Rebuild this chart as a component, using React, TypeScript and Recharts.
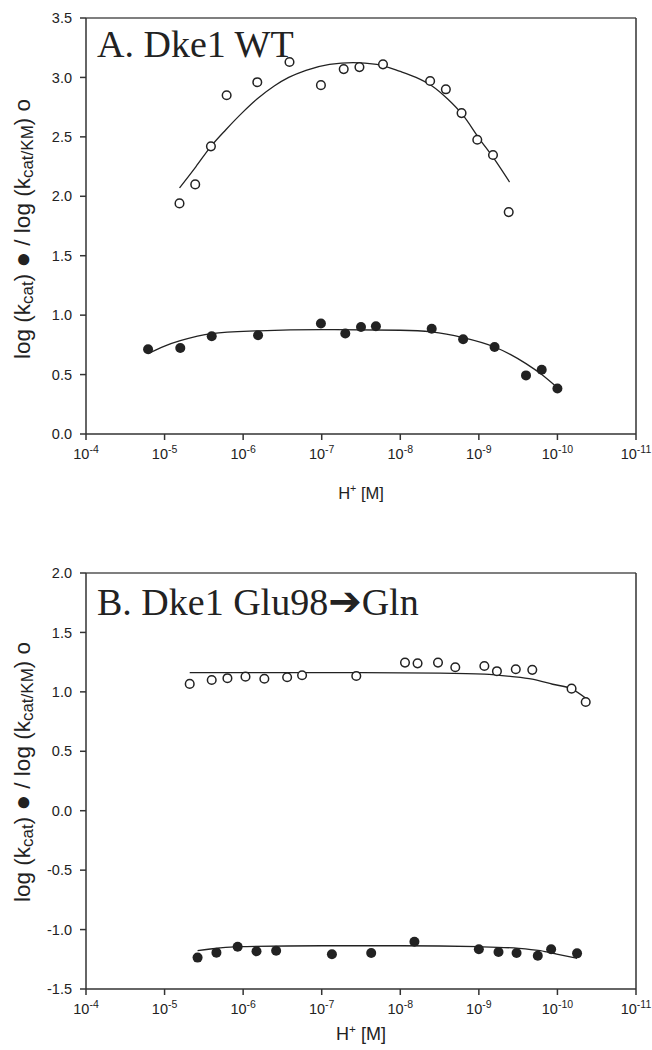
import { ComposedChart, Scatter, Line, XAxis, YAxis, ReferenceLine } from 'recharts';

// x positions are pH (H+ = 10^-pH), shown as 10^-n on the axis
const PH_TICKS = [4, 5, 6, 7, 8, 9, 10, 11];

// A. Dke1 WT
const wtKmPh = [5.19, 5.39, 5.59, 5.79, 6.18, 6.59, 6.99, 7.28, 7.48, 7.78, 8.38, 8.58, 8.78, 8.98, 9.18, 9.38];
const wtKmLog = [1.94, 2.1, 2.42, 2.85, 2.96, 3.13, 2.935, 3.07, 3.087, 3.11, 2.97, 2.9, 2.7, 2.476, 2.347, 1.867];
const wtKcatPh = [4.79, 5.2, 5.6, 6.19, 6.99, 7.3, 7.5, 7.69, 8.4, 8.8, 9.2, 9.6, 9.8, 10.0];
const wtKcatLog = [0.713, 0.724, 0.823, 0.831, 0.93, 0.845, 0.9, 0.907, 0.885, 0.797, 0.732, 0.493, 0.541, 0.383];
const wtKmFitPh = [5.19, 5.4, 5.59, 5.78, 6.0, 6.18, 6.4, 6.58, 6.8, 7.1, 7.4, 7.7, 8.0, 8.2, 8.4, 8.6, 8.8, 9.0, 9.2, 9.39];
const wtKmFit = [2.07, 2.25, 2.42, 2.56, 2.71, 2.82, 2.93, 3.0, 3.06, 3.11, 3.125, 3.11, 3.05, 3.0, 2.93, 2.82, 2.68, 2.49, 2.31, 2.12];
const wtKcatFitPh = [4.79, 5.0, 5.2, 5.6, 6.2, 7.0, 8.0, 8.4, 8.8, 9.2, 9.4, 9.6, 9.8, 10.0];
const wtKcatFit = [0.676, 0.74, 0.785, 0.845, 0.868, 0.879, 0.873, 0.859, 0.811, 0.732, 0.67, 0.592, 0.5, 0.389];

// B. Dke1 Glu98->Gln
const mutKmPh = [5.32, 5.6, 5.8, 6.03, 6.27, 6.56, 6.75, 7.44, 8.06, 8.22, 8.48, 8.7, 9.07, 9.23, 9.47, 9.68, 10.18, 10.36];
const mutKmLog = [1.067, 1.1, 1.115, 1.128, 1.11, 1.123, 1.14, 1.134, 1.246, 1.24, 1.246, 1.207, 1.218, 1.174, 1.19, 1.185, 1.027, 0.915];
const mutKcatPh = [5.42, 5.66, 5.93, 6.17, 6.42, 7.13, 7.63, 8.18, 9.0, 9.25, 9.48, 9.75, 9.92, 10.25];
const mutKcatLog = [-1.236, -1.194, -1.144, -1.183, -1.178, -1.208, -1.197, -1.102, -1.166, -1.189, -1.197, -1.22, -1.166, -1.2];
const mutKmFitPh = [5.32, 6.5, 7.5, 8.5, 9.07, 9.4, 9.68, 9.94, 10.18, 10.38];
const mutKmFit = [1.162, 1.162, 1.162, 1.158, 1.149, 1.13, 1.107, 1.064, 1.025, 0.937];
const mutKcatFitPh = [5.42, 5.7, 5.93, 7.0, 8.0, 9.0, 9.51, 9.78, 9.99, 10.25];
const mutKcatFit = [-1.178, -1.155, -1.144, -1.136, -1.136, -1.144, -1.158, -1.178, -1.206, -1.242];

const A_TICKS = [0, 0.5, 1, 1.5, 2, 2.5, 3, 3.5];
const B_TICKS = [-1.5, -1, -0.5, 0, 0.5, 1, 1.5, 2];

const SANS = 'Liberation Sans, Arial, sans-serif';
const SERIF = 'Liberation Serif, Times New Roman, serif';
const INK = '#222';

const zip = (xs: number[], ys: number[]) => xs.map((x, i) => ({ x, y: ys[i] }));

const OpenDot = (p: any) => (
  <circle cx={p.cx} cy={p.cy} r={4.3} fill="#fff" stroke={INK} strokeWidth={1.5} />
);
const FilledDot = (p: any) => <circle cx={p.cx} cy={p.cy} r={5} fill={INK} />;

const PowTick = ({ x, y, payload }: any) => (
  <text x={x} y={y + 17} textAnchor="middle" fontSize={14.5} fill={INK} fontFamily={SANS}>
    <tspan>10</tspan>
    <tspan dy={-6} fontSize={10.5}>{`-${payload.value}`}</tspan>
  </text>
);

interface PanelProps {
  height: number;
  marginTop: number;
  xAxisHeight: number;
  xLabelDy: number;
  xLabelSize: number;
  yDomain: [number, number];
  yTicks: number[];
  title: React.ReactNode;
  titleDy: number;
  yLabelShift: number;
  open: { x: number; y: number }[];
  filled: { x: number; y: number }[];
  openFit: { x: number; y: number }[];
  filledFit: { x: number; y: number }[];
}

function Panel(props: PanelProps) {
  const { height, marginTop, xAxisHeight, xLabelDy, xLabelSize, yDomain, yTicks, title, titleDy, yLabelShift } = props;

  const renderYLabel = ({ viewBox }: any) => {
    const cy = viewBox.y + viewBox.height / 2 + yLabelShift;
    const cx = 22;
    return (
      <text
        x={cx}
        y={cy}
        transform={`rotate(-90, ${cx}, ${cy})`}
        textAnchor="middle"
        dominantBaseline="central"
        fontSize={22.5}
        fill={INK}
        fontFamily={SANS}
      >
        <tspan>log (k</tspan>
        <tspan dy={5} fontSize={17}>cat</tspan>
        <tspan dy={-5}>) </tspan>
        <tspan fontSize={26}>●</tspan>
        <tspan> / log (k</tspan>
        <tspan dy={5} fontSize={17}>cat</tspan>
        <tspan fontSize={17}>/K</tspan>
        <tspan fontSize={17}>M</tspan>
        <tspan dy={-5}>) o</tspan>
      </text>
    );
  };

  const renderXLabel = ({ viewBox }: any) => (
    <text
      x={viewBox.x + viewBox.width / 2}
      y={viewBox.y + xLabelDy}
      textAnchor="middle"
      fontSize={xLabelSize}
      fill={INK}
      fontFamily={SANS}
    >
      <tspan>H</tspan>
      <tspan dy={-7} fontSize={xLabelSize * 0.65}>+</tspan>
      <tspan dy={7}> [M]</tspan>
    </text>
  );

  const renderTitle = ({ viewBox }: any) => (
    <text x={viewBox.x + 11} y={viewBox.y + titleDy} fontSize={38} fill={INK} fontFamily={SERIF}>
      {title}
    </text>
  );

  return (
    <ComposedChart
      width={652}
      height={height}
      margin={{ top: marginTop, right: 16, bottom: 0, left: 0 }}
    >
      <XAxis
        dataKey="x"
        type="number"
        domain={[4, 11]}
        ticks={PH_TICKS}
        tick={<PowTick />}
        tickSize={6}
        height={xAxisHeight}
        stroke="#333"
        strokeWidth={1.5}
        label={{ content: renderXLabel }}
      />
      <YAxis
        type="number"
        domain={yDomain}
        ticks={yTicks}
        width={86}
        tickSize={6}
        tickMargin={8}
        stroke="#333"
        strokeWidth={1.5}
        tick={{ fill: INK, fontSize: 14.5, fontFamily: SANS }}
        tickFormatter={(v: number) => v.toFixed(1)}
        label={{ content: renderYLabel }}
      />
      <ReferenceLine y={yDomain[1]} stroke="#555" strokeWidth={1.5} label={{ content: renderTitle }} />
      <ReferenceLine x={11} stroke="#333" strokeWidth={1.5} />
      <Line data={props.openFit} dataKey="y" type="monotone" stroke={INK} strokeWidth={1.3} dot={false} isAnimationActive={false} />
      <Line data={props.filledFit} dataKey="y" type="monotone" stroke={INK} strokeWidth={1.3} dot={false} isAnimationActive={false} />
      <Scatter data={props.open} dataKey="y" shape={OpenDot} isAnimationActive={false} />
      <Scatter data={props.filled} dataKey="y" shape={FilledDot} isAnimationActive={false} />
    </ComposedChart>
  );
}

export default function App() {
  return (
    <div style={{ position: 'absolute', left: 0, top: 0, width: 652, height: 1050, background: '#fff' }}>
      <Panel
        height={525}
        marginTop={18}
        xAxisHeight={91}
        xLabelDy={65}
        xLabelSize={16.5}
        yDomain={[0, 3.5]}
        yTicks={A_TICKS}
        title="A. Dke1 WT"
        titleDy={39}
        yLabelShift={3}
        open={zip(wtKmPh, wtKmLog)}
        filled={zip(wtKcatPh, wtKcatLog)}
        openFit={zip(wtKmFitPh, wtKmFit)}
        filledFit={zip(wtKcatFitPh, wtKcatFit)}
      />
      <Panel
        height={525}
        marginTop={48}
        xAxisHeight={61}
        xLabelDy={51}
        xLabelSize={18}
        yDomain={[-1.5, 2]}
        yTicks={B_TICKS}
        title={
          <>
            <tspan>B. Dke1 Glu98</tspan>
            <tspan fontFamily="DejaVu Sans" fontSize={40}>➔</tspan>
            <tspan>Gln</tspan>
          </>
        }
        titleDy={42}
        yLabelShift={-9}
        open={zip(mutKmPh, mutKmLog)}
        filled={zip(mutKcatPh, mutKcatLog)}
        openFit={zip(mutKmFitPh, mutKmFit)}
        filledFit={zip(mutKcatFitPh, mutKcatFit)}
      />
    </div>
  );
}
